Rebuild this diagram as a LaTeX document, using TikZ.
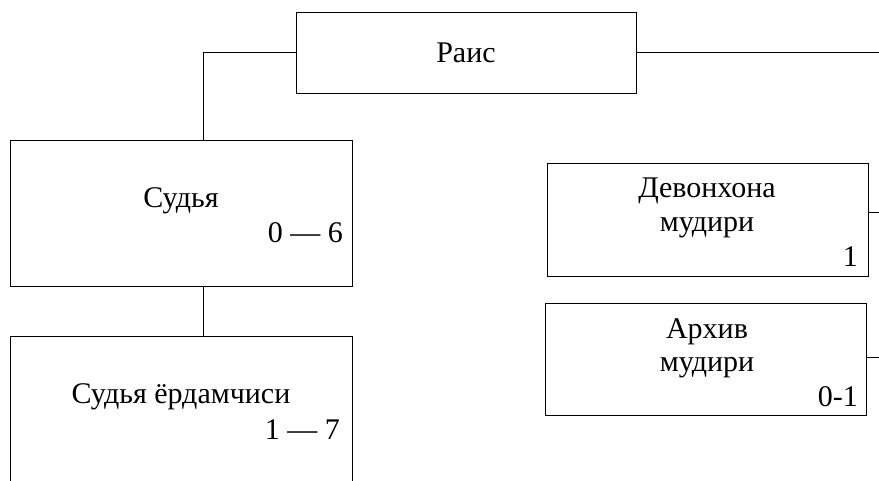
\documentclass[tikz,border=0pt]{standalone}
\usepackage{fontspec}
\setmainfont{Liberation Serif}
\usetikzlibrary{positioning}

\begin{document}
\begin{tikzpicture}[x=1pt, y=-1pt,
    box/.style = {draw, line width=1pt, rectangle, inner sep=0pt},
    txt/.style = {inner sep=0pt, anchor=base, font=\fontsize{30}{34}\selectfont},
    num/.style = {txt, anchor=base east}]
\useasboundingbox (0,0) rectangle (879,480);
\clip (0,0) rectangle (879,480);
% boxes
\node[box, minimum width=340pt, minimum height=81pt] (rais) at (466,52.5) {};
\node[box, minimum width=342pt, minimum height=146pt] (sudya) at (181,213) {};
\node[box, minimum width=342pt, minimum height=164pt] (yordam) at (181,418) {};
\node[box, minimum width=321pt, minimum height=113pt] (devon) at (707.5,219.5) {};
\node[box, minimum width=321pt, minimum height=112pt] (arxiv) at (705.5,359.5) {};
% texts
\node[txt] (raisT) at (466,62) {Раис};
\node[txt] (sudyaT) at (181,207) {Судья};
\node[num] (sudyaN) at (343,242) {0 --- 6};
\node[txt] (yordamT) at (181,403) {Судья ёрдамчиси};
\node[num] (yordamN) at (340,439) {1 --- 7};
\node[txt] (devonT) at (707,197) {Девонхона};
\node[txt] (devonT2) at (707,231) {мудири};
\node[num] (devonN) at (858,266) {1};
\node[txt] (arxivT) at (707,338) {Архив};
\node[txt] (arxivT2) at (707,371) {мудири};
\node[num] (arxivN) at (858,406) {0-1};
% connectors
\coordinate (raisR) at (879,52.5);
\coordinate (devonR) at (879,212);
\coordinate (arxivR) at (879,357);
\draw[line width=1pt] (rais.west) -| ([xshift=22pt]sudya.north);
\draw[line width=1pt] (rais.east) -- (raisR);
\draw[line width=1pt] ([xshift=22pt]sudya.south) -- ([xshift=22pt]yordam.north);
\draw[line width=1pt] (devonR -| devon.east) -- (devonR);
\draw[line width=1pt] (arxivR -| arxiv.east) -- (arxivR);
\end{tikzpicture}
\end{document}
